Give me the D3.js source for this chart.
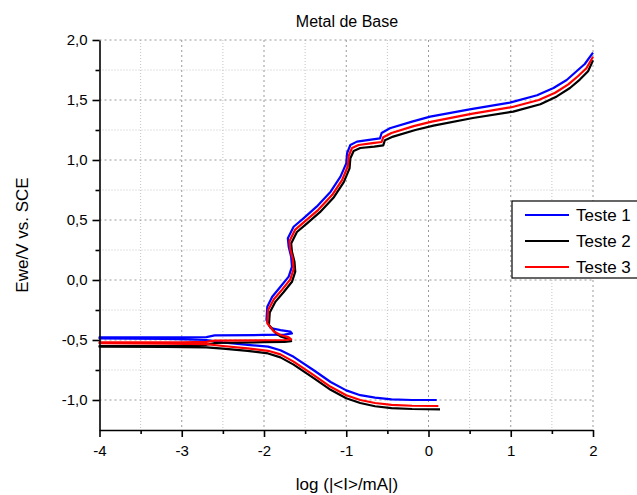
<!DOCTYPE html>
<meta charset="utf-8">
<style>
    body { margin: 0; background: #fff; }
    svg { font-family: "Liberation Sans", Arial, sans-serif; }
    .axis path, .axis line { stroke: #000; stroke-width: 1.6; }
    .axis text { font-size: 15px; fill: #000; }
    .grid.major line { stroke: #999; stroke-dasharray: 2,3; }
    .grid.minor line { stroke: #c4c4c4; stroke-dasharray: 1,2; }
    path.curve { fill: none; stroke-width: 2.2; stroke-linejoin: round; }
</style>
<body>
<script src="https://cdn.jsdelivr.net/npm/d3@7"></script>
<script>

    // log(|I|/mA), Ewe (V vs SCE)
    var teste1 = [
        [0.10,-1.000],[-0.20,-1.000],[-0.45,-0.995],[-0.65,-0.980],[-0.83,-0.960],[-1.00,-0.920],[-1.19,-0.850],[-1.40,-0.750],
        [-1.64,-0.640],[-1.80,-0.585],[-1.95,-0.555],[-2.20,-0.540],[-2.50,-0.520],[-2.70,-0.500],[-3.20,-0.490],[-4.00,-0.486],
        [-4.00,-0.478],[-3.00,-0.478],[-2.70,-0.476],[-2.60,-0.462],[-2.00,-0.458],[-1.75,-0.455],[-1.66,-0.445],[-1.68,-0.430],
        [-1.80,-0.418],[-1.92,-0.400],[-1.97,-0.333],[-1.96,-0.222],[-1.90,-0.139],[-1.80,-0.056],[-1.70,0.028],[-1.66,0.111],
        [-1.67,0.194],[-1.70,0.278],[-1.71,0.347],[-1.64,0.444],[-1.52,0.514],[-1.36,0.611],[-1.19,0.736],[-1.07,0.861],
        [-1.00,0.972],[-0.99,1.056],[-0.95,1.125],[-0.87,1.153],[-0.70,1.170],[-0.59,1.180],[-0.57,1.225],[-0.47,1.264],
        [-0.20,1.320],[0.02,1.361],[0.50,1.422],[0.99,1.478],[1.32,1.540],[1.52,1.600],[1.68,1.667],[1.80,1.740],[1.90,1.800],[2.00,1.895]
    ];
    var teste2 = [
        [0.14,-1.078],[-0.20,-1.075],[-0.45,-1.068],[-0.65,-1.052],[-0.83,-1.025],[-1.00,-0.985],[-1.19,-0.915],[-1.40,-0.815],
        [-1.64,-0.705],[-1.80,-0.645],[-1.95,-0.612],[-2.20,-0.590],[-2.50,-0.572],[-2.70,-0.562],[-3.20,-0.558],[-4.00,-0.556],
        [-4.00,-0.550],[-3.00,-0.548],[-2.70,-0.540],[-2.60,-0.525],[-2.00,-0.518],[-1.75,-0.515],[-1.67,-0.510],[-1.70,-0.492],
        [-1.80,-0.470],[-1.86,-0.440],[-1.94,-0.375],[-1.93,-0.270],[-1.86,-0.180],[-1.76,-0.100],[-1.66,-0.015],[-1.62,0.070],
        [-1.63,0.155],[-1.66,0.235],[-1.67,0.305],[-1.60,0.400],[-1.48,0.470],[-1.32,0.565],[-1.15,0.690],[-1.03,0.815],
        [-0.96,0.930],[-0.95,1.015],[-0.91,1.075],[-0.83,1.100],[-0.66,1.112],[-0.55,1.122],[-0.53,1.165],[-0.43,1.195],
        [-0.16,1.250],[0.06,1.286],[0.54,1.350],[1.03,1.403],[1.36,1.465],[1.56,1.530],[1.72,1.600],[1.84,1.670],[1.94,1.740],[2.00,1.830]
    ];
    var teste3 = [
        [0.12,-1.050],[-0.20,-1.048],[-0.45,-1.040],[-0.65,-1.025],[-0.83,-1.000],[-1.00,-0.960],[-1.19,-0.890],[-1.40,-0.790],
        [-1.64,-0.680],[-1.80,-0.620],[-1.95,-0.590],[-2.20,-0.570],[-2.50,-0.550],[-2.70,-0.535],[-3.20,-0.530],[-4.00,-0.527],
        [-4.00,-0.520],[-3.00,-0.520],[-2.70,-0.515],[-2.60,-0.505],[-2.00,-0.502],[-1.75,-0.500],[-1.67,-0.495],[-1.70,-0.478],
        [-1.80,-0.458],[-1.88,-0.430],[-1.96,-0.360],[-1.95,-0.250],[-1.88,-0.160],[-1.78,-0.080],[-1.68,0.005],[-1.64,0.090],
        [-1.65,0.175],[-1.68,0.255],[-1.69,0.325],[-1.62,0.420],[-1.50,0.490],[-1.34,0.585],[-1.17,0.710],[-1.05,0.835],
        [-0.98,0.950],[-0.97,1.035],[-0.93,1.100],[-0.85,1.125],[-0.68,1.140],[-0.57,1.150],[-0.55,1.190],[-0.45,1.225],
        [-0.18,1.282],[0.04,1.320],[0.52,1.385],[1.01,1.440],[1.34,1.500],[1.54,1.560],[1.70,1.630],[1.82,1.700],[1.92,1.765],[2.00,1.860]
    ];

    var seriesNames = ["Teste 1", "Teste 2", "Teste 3"];
    var seriesColors = ["#0000ff", "#000000", "#ff0000"];
    var seriesData = [teste1, teste2, teste3];

    var xTicks = [-4, -3, -2, -1, 0, 1, 2];
    var xMinorTicks = [-3.5, -2.5, -1.5, -0.5, 0.5, 1.5];
    var yTicks = [-1.0, -0.5, 0.0, 0.5, 1.0, 1.5, 2.0];
    var yMinorTicks = [-0.75, -0.25, 0.25, 0.75, 1.25, 1.75];

    var W = 637, H = 495;
    var plotLeft = 99.5, plotRight = 593, plotTop = 40, plotBottom = 430;

    var x = d3.scaleLinear().domain([-4, 2]).range([plotLeft, plotRight]);
    var y = d3.scaleLinear().domain([-1.25, 2.0]).range([plotBottom, plotTop]);

    var fmtY = function(d) { return d3.format(".1f")(d).replace(".", ",").replace("\u2212", "-"); };
    var fmtX = function(d) { return d3.format("d")(d).replace("\u2212", "-"); };

    var svg = d3.select("body").append("svg")
            .attr("width", W)
            .attr("height", H);

    // grid
    svg.append("g").attr("class", "grid minor")
        .selectAll("line").data(xMinorTicks).enter().append("line")
            .attr("x1", x).attr("x2", x).attr("y1", plotTop).attr("y2", plotBottom);
    svg.append("g").attr("class", "grid minor")
        .selectAll("line").data(yMinorTicks).enter().append("line")
            .attr("x1", plotLeft).attr("x2", plotRight).attr("y1", y).attr("y2", y);
    svg.append("g").attr("class", "grid major")
        .selectAll("line").data(xTicks.filter(function(d) { return d > -4; })).enter().append("line")
            .attr("x1", x).attr("x2", x).attr("y1", plotTop).attr("y2", plotBottom);
    svg.append("g").attr("class", "grid major")
        .selectAll("line").data(yTicks).enter().append("line")
            .attr("x1", plotLeft).attr("x2", plotRight).attr("y1", y).attr("y2", y);

    // curves
    var line = d3.line()
            .x(function(d) { return x(d[0]); })
            .y(function(d) { return y(d[1]); });

    svg.append("g").selectAll("path").data(seriesData).enter().append("path")
            .attr("class", "curve")
            .attr("stroke", function(d, i) { return seriesColors[i]; })
            .attr("d", line);

    // axes (minor ticks, then major ticks with labels)
    svg.append("g").attr("class", "axis")
            .attr("transform", "translate(0," + plotBottom + ")")
            .call(d3.axisBottom(x).tickValues(xMinorTicks).tickSize(4).tickFormat(""))
            .select(".domain").remove();
    svg.append("g").attr("class", "axis")
            .attr("transform", "translate(" + plotLeft + ",0)")
            .call(d3.axisLeft(y).tickValues(yMinorTicks).tickSize(4).tickFormat(""))
            .select(".domain").remove();

    svg.append("g").attr("class", "axis")
            .attr("transform", "translate(0," + plotBottom + ")")
            .call(d3.axisBottom(x).tickValues(xTicks).tickSize(7).tickSizeOuter(0).tickPadding(8).tickFormat(fmtX));
    svg.append("g").attr("class", "axis")
            .attr("transform", "translate(" + plotLeft + ",0)")
            .call(d3.axisLeft(y).tickValues(yTicks).tickSize(7).tickSizeOuter(0).tickPadding(5).tickFormat(fmtY));

    // titles
    svg.append("text")
            .attr("x", 347).attr("y", 27)
            .attr("text-anchor", "middle")
            .style("font-size", "16px")
            .text("Metal de Base");

    svg.append("text")
            .attr("x", 347).attr("y", 490)
            .attr("text-anchor", "middle")
            .style("font-size", "17px")
            .text("log (|<I>/mA|)");

    svg.append("text")
            .attr("transform", "translate(28," + (plotTop + plotBottom) / 2 + ") rotate(-90)")
            .attr("text-anchor", "middle")
            .style("font-size", "17px")
            .text("Ewe/V vs. SCE");

    // legend
    var legend = svg.append("g").attr("transform", "translate(512,201)");
    legend.append("rect")
            .attr("width", 150).attr("height", 77)
            .attr("fill", "#fff").attr("stroke", "#000").attr("stroke-width", 1.2);
    var items = legend.selectAll("g.item").data(seriesNames).enter().append("g")
            .attr("class", "item")
            .attr("transform", function(d, i) { return "translate(0," + (14 + i * 26) + ")"; });
    items.append("line")
            .attr("x1", 13).attr("x2", 57)
            .attr("stroke", function(d, i) { return seriesColors[i]; })
            .attr("stroke-width", 2);
    items.append("text")
            .attr("x", 64).attr("dy", "0.35em")
            .style("font-size", "17px")
            .text(function(d) { return d; });

</script>
